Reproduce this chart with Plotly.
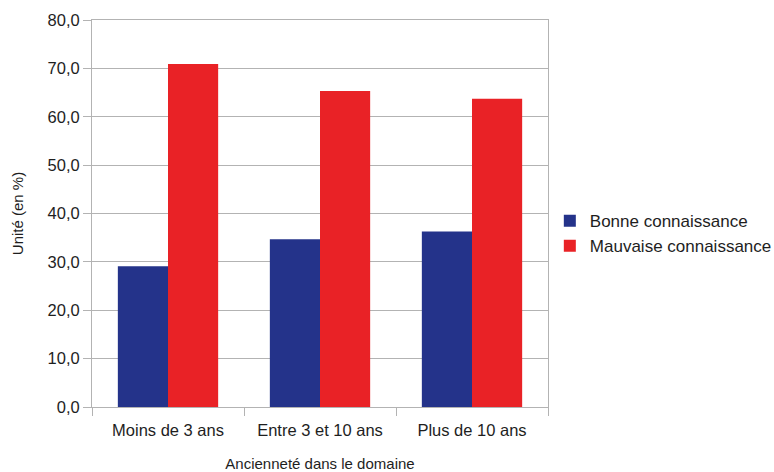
import plotly.graph_objects as go

categories = ["Moins de 3 ans", "Entre 3 et 10 ans", "Plus de 10 ans"]
bonne = [29.1, 34.7, 36.3]
mauvaise = [70.9, 65.3, 63.7]
y_ticks = [0, 10, 20, 30, 40, 50, 60, 70, 80]
y_tick_labels = ["0,0", "10,0", "20,0", "30,0", "40,0", "50,0", "60,0", "70,0", "80,0"]

grid = "#b3b3b3"
font = "Liberation Sans, Arial, sans-serif"

fig = go.Figure()
fig.add_trace(go.Bar(x=categories, y=bonne, name="Bonne connaissance",
                     marker=dict(color="#24338a", line=dict(width=0))))
fig.add_trace(go.Bar(x=categories, y=mauvaise, name="Mauvaise connaissance",
                     marker=dict(color="#e92226", line=dict(width=0))))

fig.update_layout(
    width=774, height=472,
    margin=dict(l=92, r=226, t=20, b=65, autoexpand=False),
    paper_bgcolor="white", plot_bgcolor="white",
    barmode="group", bargap=0.34, bargroupgap=0,
    font=dict(family=font, size=16, color="#1e1e1e"),
    legend=dict(x=1.004, y=0.448, xanchor="left", yanchor="middle",
                bgcolor="rgba(0,0,0,0)", borderwidth=0,
                font=dict(size=17, color="#1e1e1e"), tracegroupgap=3,
                itemwidth=30),
    showlegend=True,
)
fig.update_xaxes(
    title=dict(text="Ancienneté dans le domaine", font=dict(size=15), standoff=22),
    showline=True, linecolor=grid, linewidth=1, mirror=True,
    ticks="outside", tickson="boundaries", ticklen=8, tickcolor=grid,
    showgrid=False, tickfont=dict(size=16.5), ticklabelstandoff=8,
)
fig.update_yaxes(
    title=dict(text="Unité (en %)", font=dict(size=15), standoff=20),
    range=[0, 80], tickvals=y_ticks, ticktext=y_tick_labels,
    showgrid=True, gridcolor=grid, gridwidth=1,
    showline=True, linecolor=grid, linewidth=1, mirror=True,
    ticks="outside", ticklen=8, tickcolor=grid,
    tickfont=dict(size=16.5), zeroline=False,
)

fig.write_html("out.html")
